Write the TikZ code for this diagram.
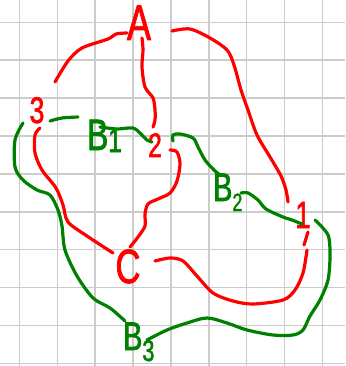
\documentclass[tikz,border=0pt]{standalone}
\usepackage{fontspec}
\newfontfamily\handfont[FakeStretch=0.72,FakeBold=1.6]{Liberation Sans}
\definecolor{penRed}{RGB}{255,0,0}
\definecolor{penGreen}{RGB}{0,128,0}
% index written beside the letter, lowered by #1 pt, in size #2 pt
\newcommand\handidx[3]{\raisebox{-#1pt}{\fontsize{#2}{#2}\selectfont #3}}

\begin{document}
\begin{tikzpicture}[x=1pt,y=-1pt,
    gridline/.style={draw=black!20, line width=1.4pt},
    redline/.style={draw=penRed, line width=3.2pt, line cap=round, line join=round},
    greenline/.style={draw=penGreen, line width=3.2pt, line cap=round, line join=round},
    redlbl/.style={text=penRed, inner sep=0pt, anchor=base},
    greenlbl/.style={text=penGreen, inner sep=0pt, anchor=base west}]
        % squared paper, one square is 37.9 px
        \def\gap{37.9}
        \fill[white] (0,0) rectangle (345,366);
        \useasboundingbox (0,0) rectangle (345,366);
        \foreach \i in {0,...,8} {
            \pgfmathsetmacro\x{19.3 + \i*\gap}
            \draw[gridline] (\x,0) -- (\x,366);
        }
        \foreach \j in {0,...,9} {
            \pgfmathsetmacro\y{22.3 + \j*\gap}
            \draw[gridline] (0,\y) -- (345,\y);
        }

        % red vertices
        \node[redlbl, font=\handfont\fontsize{50}{50}\selectfont] (A) at (139,40) {A};
        \node[redlbl, font=\handfont\fontsize{37}{37}\selectfont] (n3) at (37,123) {3};
        \node[redlbl, font=\handfont\fontsize{34}{34}\selectfont] (n2) at (155,157) {2};
        \node[redlbl, font=\handfont\fontsize{38}{38}\selectfont] (n1) at (303,228) {1};
        \node[redlbl, font=\handfont\fontsize{48}{48}\selectfont] (C) at (128,283) {C};

        % green vertices
        \node[greenlbl, font=\handfont\fontsize{44}{44}\selectfont] (B1) at (87,150) {B\handidx{2}{34}{1}};
        \node[greenlbl, font=\handfont\fontsize{40}{40}\selectfont] (B2) at (213,201) {B\handidx{10}{25}{2}};
        \node[greenlbl, font=\handfont\fontsize{40}{40}\selectfont] (B3) at (123,350) {B\handidx{11}{30}{3}};

        % red edges
        \draw[redline] plot[smooth] coordinates {([shift={(-12,-7)}]A.base) (116,34) (108,39) (82,48) (68,61) ([shift={(18,-41)}]n3.base)};
        \draw[redline] plot[smooth] coordinates {([shift={(3,-2)}]A.base) (143,50) (142,67) (145,87) (153,98) (155,110) (155,120) ([shift={(-2,-30)}]n2.base)};
        \draw[redline] plot[smooth] coordinates {([shift={(33,-9)}]A.base) (190,29) (210,38) (227,50) (234,65) (241,90) (248,110) (257,135) (270,157) (281,176) (286,190) ([shift={(-15,-26)}]n1.base)};
        \draw[redline] plot[smooth] coordinates {([shift={(3,5)}]n3.base) (35,135) (35,153) (42,170) (56,188) (63,205) (68,222) (87,236) ([shift={(-15,-30)}]C.base)};
        \draw[redline] plot[smooth] coordinates {([shift={(15,-7)}]n2.base) (177,152) (180,164) (177,181) (170,193) (158,199) (148,204) (145,214) (145,226) (138,237) ([shift={(2,-36)}]C.base)};
        \draw[redline] plot[smooth] coordinates {([shift={(27,-22)}]C.base) (170,258) (183,261) (197,276) (213,293) (233,301) (253,304) (283,300) (295,290) (303,273) (307,250)};
        \draw[redline] ([shift={(1,17)}]n1.base) -- ([shift={(5,4)}]n1.base);

        % green edges
        \draw[greenline] plot[smooth] coordinates {([shift={(-37,-29)}]B1.base west) (62,118) ([shift={(-9,-33)}]B1.base west)};
        \draw[greenline] plot[smooth] coordinates {([shift={(13,-23)}]B1.base west) (117,129) (133,128) (141,134) (147,140) ([shift={(-3,-15)}]n2.base)};
        \draw[greenline] plot[smooth] coordinates {([shift={(18,-16)}]n2.base) (173,135) (180,134) (193,138) (198,147) (205,160) (214,170) ([shift={(7,-26)}]B2.base west)};
        \draw[greenline] plot[smooth] coordinates {([shift={(28,-8)}]B2.base west) (248,193) (258,200) (266,209) (283,217) (292,220) ([shift={(-1,-4)}]n1.base)};
        \draw[greenline] plot[smooth] coordinates {([shift={(12,-8)}]n1.base) (328,235) (330,256) (328,280) (320,300) (310,316) (303,330) (293,335) (273,335) (247,330) (227,323) (207,318) (187,323) (167,330) ([shift={(24,-10)}]B3.base west)};
        \draw[greenline] plot[smooth] coordinates {([shift={(-14,0)}]n3.base) (15,140) (15,167) (23,180) (37,190) (50,195) (58,210) (62,226) (65,250) (77,276) (93,298) (110,308) ([shift={(2,-29)}]B3.base west)};
    \end{tikzpicture}
\end{document}
